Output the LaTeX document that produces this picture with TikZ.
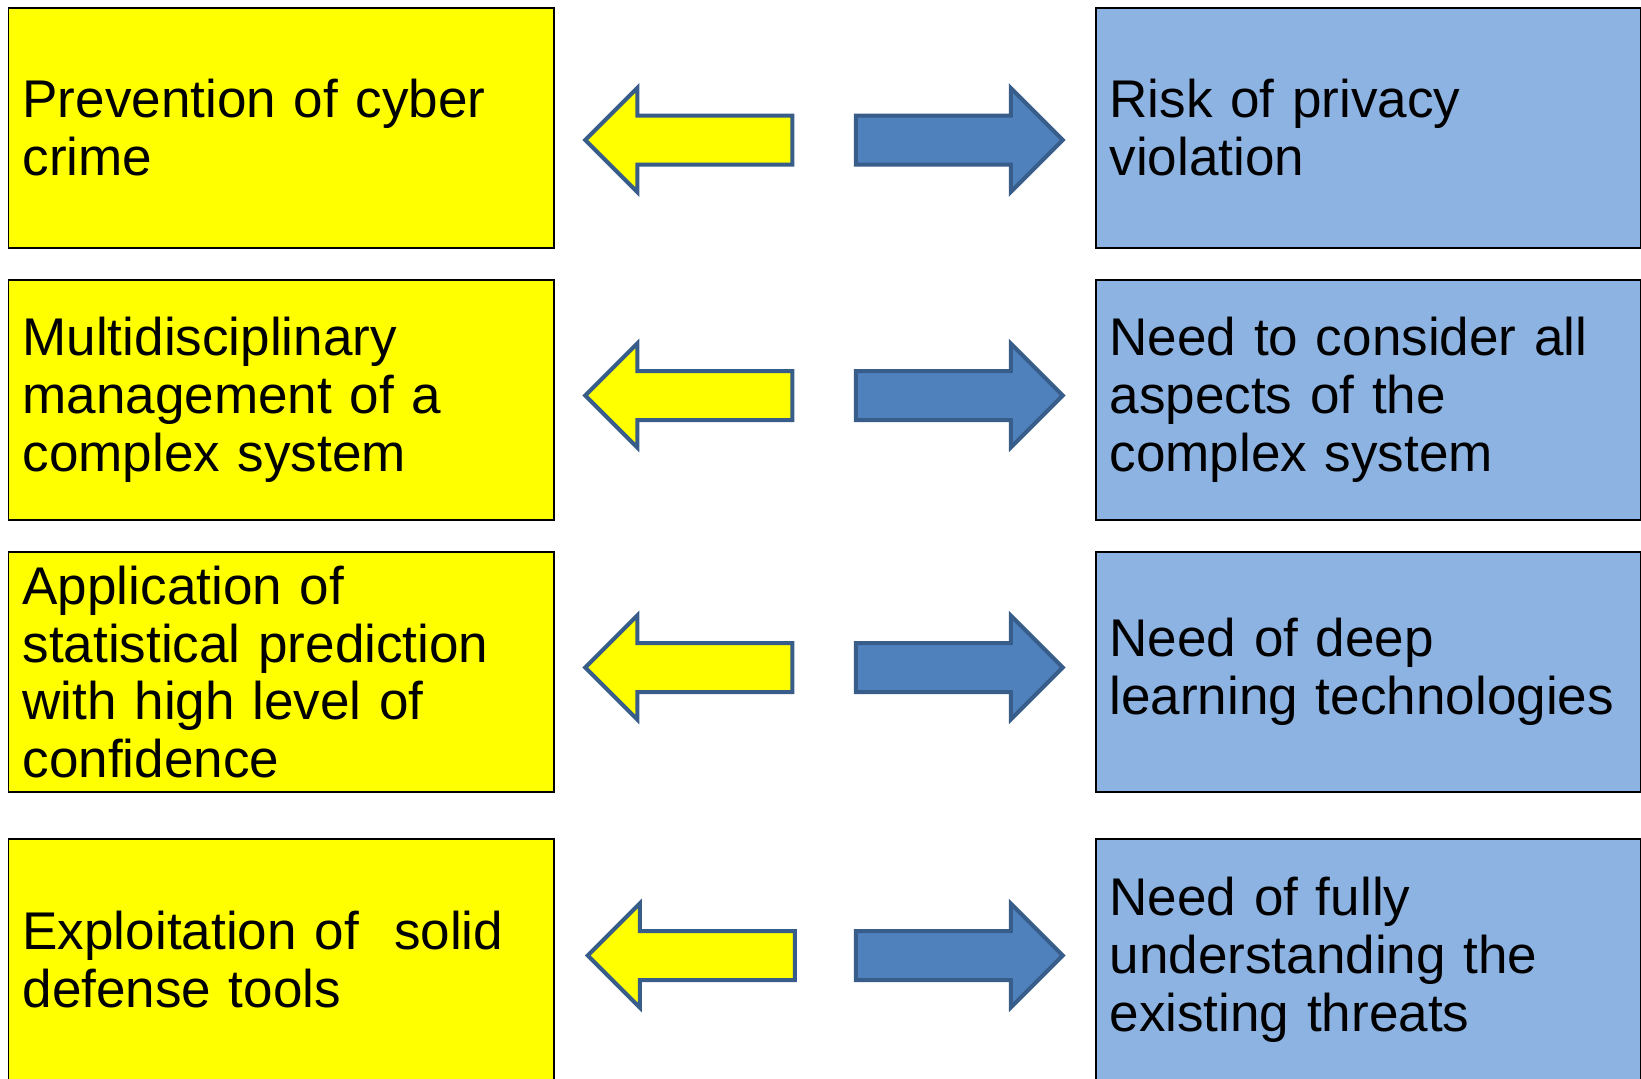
\documentclass[tikz,border=0pt]{standalone}
\usepackage{fontspec}
\setmainfont{Liberation Sans}
\usetikzlibrary{shapes.arrows}
\definecolor{boxyellow}{HTML}{FFFF00}
\definecolor{boxblue}{HTML}{8DB3E2}
\definecolor{arrowblue}{HTML}{4F81BD}
\definecolor{arrowedge}{HTML}{385D8A}

\begin{document}
\begin{tikzpicture}[
	box/.style={draw=black, line width=0.04cm, minimum width=10.9cm, minimum height=4.81cm, text width=10.34cm, inner xsep=0.28cm, align=left, font=\fontsize{30.2}{32.8}\selectfont},
	blockarrow/.style={single arrow, draw=arrowedge, line width=0.08cm, inner xsep=0pt, inner ysep=0.45cm, minimum height=4.14cm, single arrow head extend=0.55cm}
	]
	\useasboundingbox (0,0) rectangle (32.82,-21.56);

	\node[box, fill=boxyellow] (p1) at (5.62,-2.555) {Prevention of cyber\\crime};
	\node[box, fill=boxyellow] (p2) at (5.62,-7.997) {Multidisciplinary\\management of a\\complex system};
	\node[box, fill=boxyellow] (p3) at (5.62,-13.439) {Application of\\statistical prediction\\with high level of\\confidence};
	\node[box, fill=boxyellow] (p4) at (5.62,-19.194) {Exploitation of \ solid\\defense tools};

	\node[box, fill=boxblue] (n1) at (27.36,-2.555) {Risk of privacy\\violation};
	\node[box, fill=boxblue] (n2) at (27.36,-7.997) {Need to consider all\\aspects of the\\complex system};
	\node[box, fill=boxblue] (n3) at (27.36,-13.439) {Need of deep\\learning technologies};
	\node[box, fill=boxblue] (n4) at (27.36,-19.194) {Need of fully\\understanding the\\existing threats};

	% block arrows between the two columns
	\node[blockarrow, fill=boxyellow, shape border rotate=180] (l1) at (14.02,-2.80) {};
	\node[blockarrow, fill=boxyellow, shape border rotate=180] (l2) at (14.02,-7.91) {};
	\node[blockarrow, fill=boxyellow, shape border rotate=180] (l3) at (14.02,-13.35) {};
	\node[blockarrow, fill=boxyellow, shape border rotate=180] (l4) at (14.07,-19.11) {};

	\node[blockarrow, fill=arrowblue] (r1) at (18.94,-2.80) {};
	\node[blockarrow, fill=arrowblue] (r2) at (18.94,-7.91) {};
	\node[blockarrow, fill=arrowblue] (r3) at (18.94,-13.35) {};
	\node[blockarrow, fill=arrowblue] (r4) at (18.94,-19.11) {};
\end{tikzpicture}
\end{document}
